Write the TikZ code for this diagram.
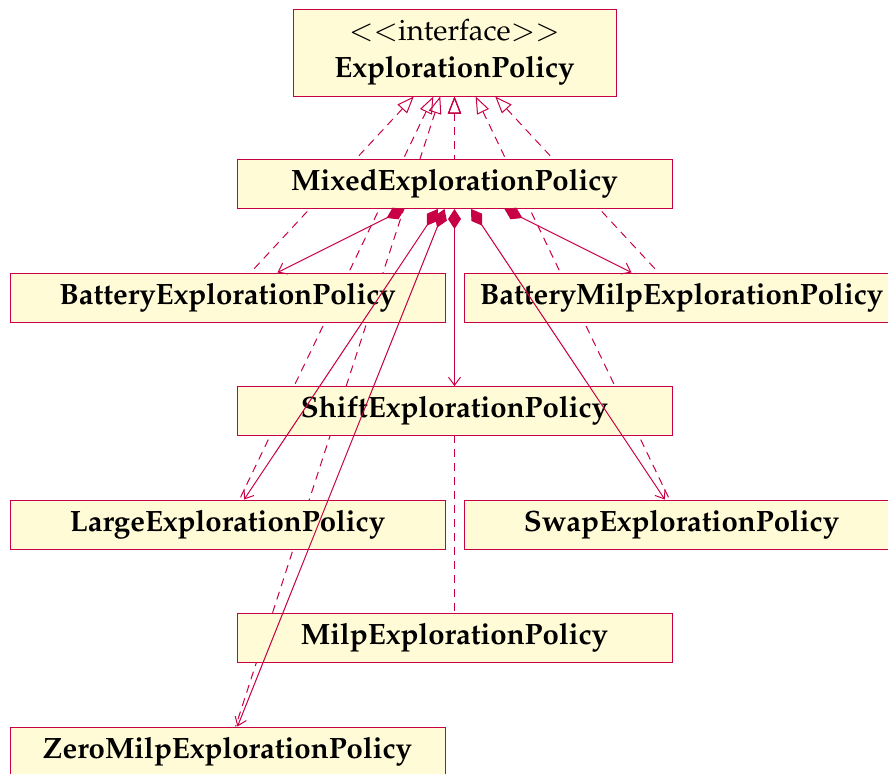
\documentclass[tikz,border=0pt]{standalone}
\usepackage[T1]{fontenc}
\usepackage{mathpazo}
\usepackage{tikz}
\usetikzlibrary{arrows.meta, backgrounds}
\definecolor{umlred}{RGB}{200,0,70}
\definecolor{umlfill}{RGB}{255,251,214}

\begin{document}
\begin{tikzpicture}[
  x=0.5pt, y=-0.5pt,
  classbox/.style={draw=umlred, fill=umlfill, line width=0.5pt, rectangle,
    minimum width=217.5pt, minimum height=24.5pt, inner sep=0pt,
    font=\fontsize{14.7}{17}\selectfont\bfseries},
  realize/.style={umlred, line width=0.5pt, dash pattern=on 4pt off 3pt,
    {Triangle[open, length=8.5pt, width=6.5pt]}-},
  compose/.style={umlred, line width=0.5pt,
    {Diamond[length=10pt, width=6.5pt]}-{Straight Barb[length=4pt, width=6pt]}},
]
\useasboundingbox (0,0) rectangle (888,773);
\clip (0,0) rectangle (888,773);

% --- Interface ---
\node[classbox, minimum width=161.5pt, minimum height=43.5pt, align=center] (iface) at (454.5,52.5)
  {{\mdseries$<<$interface$>>$}\\[1.5pt]ExplorationPolicy};

% --- Classes ---
\node[classbox] (mixed)       at (454.5,184)   {MixedExplorationPolicy};
\node[classbox] (battery)     at (227.5,297.5) {BatteryExplorationPolicy};
\node[classbox] (batterymilp) at (681.5,297.5) {BatteryMilpExplorationPolicy};
\node[classbox] (shift)       at (454.5,411)   {ShiftExplorationPolicy};
\node[classbox] (large)       at (227.5,524.5) {LargeExplorationPolicy};
\node[classbox] (swap)        at (681.5,524.5) {SwapExplorationPolicy};
\node[classbox] (milp)        at (454.5,637.5) {MilpExplorationPolicy};
\node[classbox] (zeromilp)    at (227.5,751.5) {ZeroMilpExplorationPolicy};

% --- Realizations (behind the boxes) ---
\begin{scope}[on background layer]
  \foreach \cls in {mixed, battery, batterymilp, shift, large, swap, milp, zeromilp}
    \draw[realize] (iface) -- (\cls);
\end{scope}

% --- Compositions ---
\foreach \cls in {battery, batterymilp, shift, large, swap, zeromilp}
  \draw[compose] (mixed) -- (\cls);

\end{tikzpicture}
\end{document}
